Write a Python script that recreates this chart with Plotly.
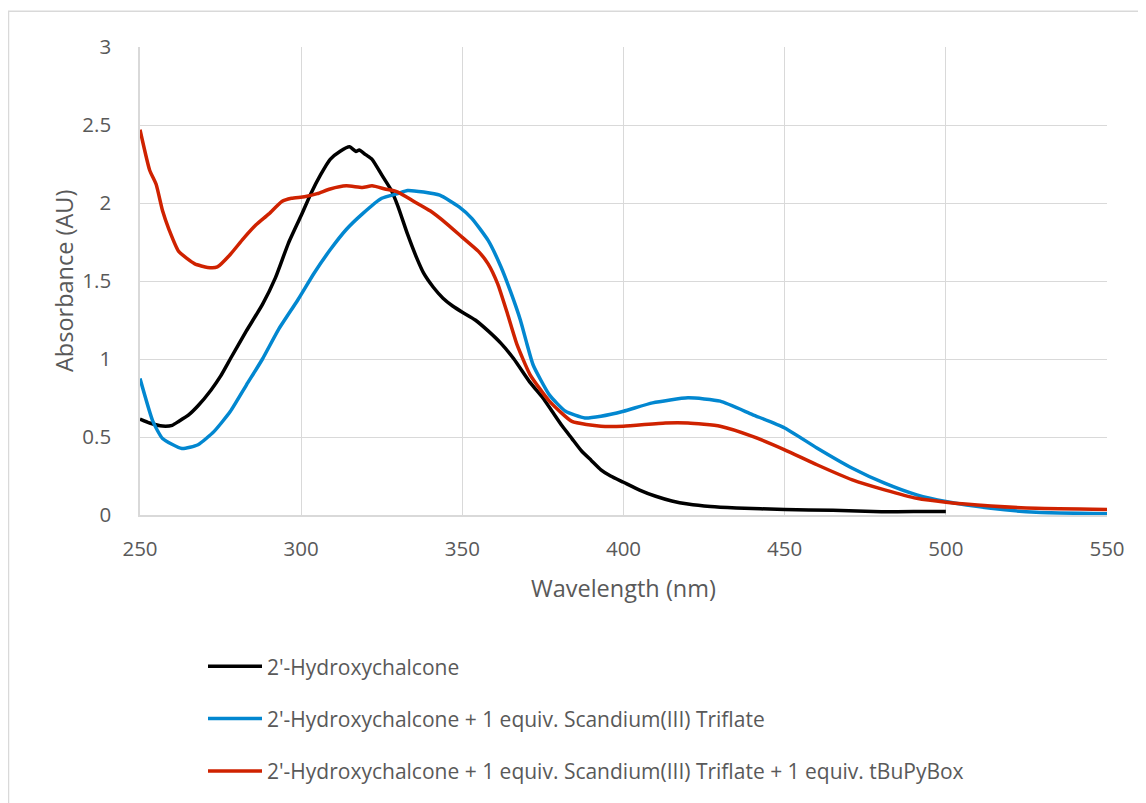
import plotly.graph_objects as go

# ---- data ----
wl_black = [250, 253, 257, 260, 262, 265, 268, 272, 275, 278, 283, 288, 292, 296, 300, 303, 306, 309,
            312, 315, 317, 318, 320, 322, 325, 328, 330, 333, 336, 338, 341, 344, 347, 350, 354, 358,
            362, 366, 371, 375, 378, 381, 384, 387, 390, 393, 396, 400, 405, 410, 415, 420, 427, 435,
            450, 465, 480, 490, 500]
abs_black = [0.615, 0.59, 0.57, 0.575, 0.60, 0.64, 0.70, 0.80, 0.89, 1.0, 1.18, 1.35, 1.52, 1.74, 1.92,
             2.06, 2.18, 2.28, 2.33, 2.36, 2.33, 2.34, 2.31, 2.28, 2.18, 2.08, 1.98, 1.80, 1.64, 1.55,
             1.46, 1.39, 1.34, 1.30, 1.25, 1.18, 1.10, 1.00, 0.85, 0.75, 0.66, 0.57, 0.49, 0.41, 0.35,
             0.29, 0.25, 0.21, 0.16, 0.12, 0.09, 0.07, 0.054, 0.045, 0.035, 0.03, 0.021, 0.022, 0.022]

wl_blue = [250, 254, 257, 263, 268, 273, 278, 283, 288, 293, 299, 304, 309, 314, 319, 325, 330, 333,
           338, 343, 349, 353, 358, 362, 365, 368, 370, 372, 377, 382, 388, 393, 400, 409, 420, 430,
           440, 450, 460, 471, 481, 491, 500, 514, 528, 550]
abs_blue = [0.875, 0.60, 0.49, 0.426, 0.45, 0.536, 0.663, 0.833, 1.0, 1.19, 1.38, 1.55, 1.70, 1.83,
            1.93, 2.03, 2.06, 2.08, 2.07, 2.05, 1.975, 1.90, 1.76, 1.59, 1.43, 1.25, 1.10, 0.96, 0.77,
            0.665, 0.622, 0.633, 0.665, 0.719, 0.751, 0.73, 0.644, 0.558, 0.43, 0.30, 0.204, 0.129,
            0.086, 0.043, 0.017, 0.008]

wl_red = [250, 253, 255, 257, 259, 262, 267, 271, 274, 278, 282, 286, 290, 294, 297, 301, 305, 309,
          314, 319, 322, 326, 330, 335, 340, 345, 350, 355, 358, 361, 364, 367, 371, 377, 384, 393, 400,
          413, 420, 430, 440, 450, 460, 471, 481, 491, 500, 514, 528, 550]
abs_red = [2.47, 2.21, 2.12, 1.95, 1.83, 1.69, 1.61, 1.587, 1.59, 1.67, 1.77, 1.86, 1.93, 2.01, 2.03,
           2.04, 2.06, 2.09, 2.11, 2.10, 2.11, 2.09, 2.07, 2.01, 1.95, 1.87, 1.78, 1.69, 1.61, 1.48,
           1.29, 1.09, 0.90, 0.73, 0.60, 0.569, 0.569, 0.59, 0.59, 0.569, 0.504, 0.418, 0.322, 0.225,
           0.161, 0.107, 0.082, 0.058, 0.043, 0.036]

names = ["2'-Hydroxychalcone",
         "2'-Hydroxychalcone + 1 equiv. Scandium(III) Triflate",
         "2'-Hydroxychalcone + 1 equiv. Scandium(III) Triflate + 1 equiv. tBuPyBox"]
x_ticks = [250, 300, 350, 400, 450, 500, 550]
y_ticks = [0, 0.5, 1, 1.5, 2, 2.5, 3]

FONT = "Open Sans"
TXT = "#595959"
GRID = "#D9D9D9"

fig = go.Figure()
for i, (xs, ys, col) in enumerate([(wl_black, abs_black, "#000000"),
                                    (wl_blue, abs_blue, "#0287D0"),
                                    (wl_red, abs_red, "#CF2200")]):
    fig.add_trace(go.Scatter(x=xs, y=ys, mode="lines", name=names[i], legendgroup=f"g{i}",
                             line=dict(color=col, width=3.5, shape="spline", smoothing=0.5)))

OFF = 8  # page body margin
W, H = 1146 - OFF, 803 - OFF
L, R, T, B = 140 - OFF, 1107 - OFF, 47 - OFF, 518 - OFF


def px(x):
    return (x - OFF - L) / (R - L)


def py(y):
    return (B - (y - OFF)) / (B - T)


fig.update_layout(
    width=W, height=H,
    margin=dict(l=L, r=W - R, t=T, b=H - B),
    paper_bgcolor="white", plot_bgcolor="white",
    font=dict(family=FONT, color=TXT),
    showlegend=True,
    legend=dict(x=px(203), xanchor="left", y=py(650), yanchor="top",
                font=dict(size=21, color=TXT, family=FONT), tracegroupgap=22, itemwidth=54,
                bgcolor="rgba(0,0,0,0)"),
    xaxis=dict(range=[250, 550], tickvals=x_ticks, showgrid=True, gridcolor=GRID, gridwidth=1.3,
               zeroline=False, showline=True, linecolor=GRID, linewidth=1.5,
               ticks="outside", ticklen=15, tickcolor="rgba(0,0,0,0)",
               tickfont=dict(size=20.5, color=TXT, family=FONT)),
    yaxis=dict(range=[0, 3], tickvals=y_ticks, showgrid=True, gridcolor=GRID, gridwidth=1.3,
               zeroline=False, showline=True, linecolor=GRID, linewidth=1.5,
               ticks="outside", ticklen=23, tickcolor="rgba(0,0,0,0)",
               tickfont=dict(size=20.5, color=TXT, family=FONT)),
    annotations=[
        dict(text="Wavelength (nm)", xref="paper", yref="paper", x=0.5, y=py(591),
             xanchor="center", yanchor="middle", showarrow=False,
             font=dict(size=23.5, color=TXT, family=FONT)),
        dict(text="Absorbance (AU)", xref="paper", yref="paper", x=px(64),
             y=0.5, xanchor="center", yanchor="middle", showarrow=False,
             textangle=-90, font=dict(size=23.5, color=TXT, family=FONT)),
    ],
    shapes=[dict(type="rect", xref="paper", yref="paper",
                 x0=px(8.5), x1=px(1170),
                 y0=py(830), y1=py(11),
                 line=dict(color=GRID, width=1.5), fillcolor="rgba(0,0,0,0)", layer="below")],
)

fig.write_html("out.html")
